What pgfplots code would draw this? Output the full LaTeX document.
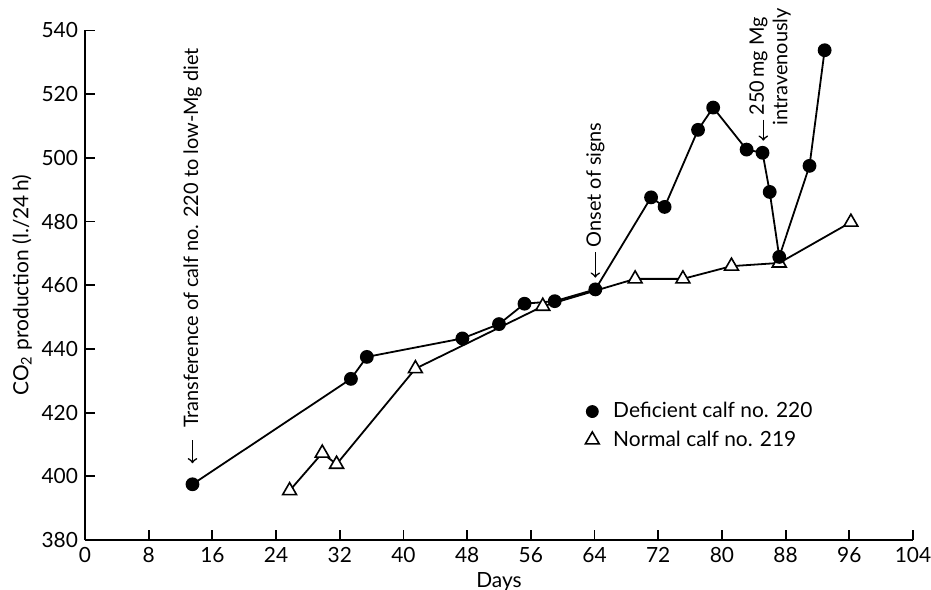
\documentclass[border=0pt]{standalone}
\usepackage{fontspec}
\setmainfont{Lato}
\usepackage{pgfplots}
\pgfplotsset{compat=1.18}
\begin{document}
\fontsize{10}{12}\selectfont
\begin{tikzpicture}
\useasboundingbox (0,0) rectangle (465.5bp,295bp);
\begin{axis}[
  at={(42.5bp,25bp)}, anchor=south west,
  scale only axis, width=414bp, height=254.75bp,
  xmin=0, xmax=104, ymin=380, ymax=540,
  axis lines=left, axis line style={line width=1.1pt, -},
  xtick={0,8,...,104}, ytick={380,400,...,540},
  tick align=inside, major tick length=5bp,
  tick style={line width=0.9pt, black},
  /pgf/number format/assume math mode=true,
  /pgf/number format/1000 sep={},
  tick label style={font=\fontsize{10.5}{12}\selectfont},
  xlabel={Days}, ylabel={CO\textsubscript{2} production (l./24\,h)},
  xlabel style={at={(axis description cs:0.5,-0.082)}, anchor=center, font=\fontsize{10.5}{12}\selectfont},
  ylabel style={at={(axis description cs:-0.0761,0.5)}, anchor=center, font=\fontsize{10.5}{12}\selectfont},
  clip=false,
  legend style={draw=none, fill=none, at={(axis cs:62.8,424.6)}, anchor=north west,
    font=\fontsize{10.5}{12}\selectfont, row sep=1bp, column sep=5bp, inner sep=0pt},
  legend cell align=left,
]
\addplot[black, line width=0.9bp, mark=triangle*, mark size=4bp, mark options={fill=white, line width=0.8bp}, forget plot] coordinates {
 (25.7,395.5) (29.8,407.3) (31.6,403.8) (41.5,433.8) (57.5,453.4)
 (69.1,462.0) (75.1,462.0) (81.2,466.0) (87.2,467.0) (96.2,479.8)
};
\addplot[black, line width=0.9bp, mark=*, mark size=3bp, mark options={fill=black}, forget plot] coordinates {
 (13.5,397.5) (33.4,430.6) (35.4,437.5) (47.4,443.3) (52.0,447.8) (55.2,454.2)
 (59.0,455.0) (64.1,458.7) (71.1,487.6) (72.8,484.6) (77.0,508.8) (78.9,515.8)
 (83.1,502.6) (85.1,501.6) (86.0,489.3) (87.2,468.9) (91.0,497.5) (92.9,533.8)
};
\addlegendimage{only marks, mark=*, mark size=3bp, black, mark options={fill=black}}
\addlegendentry{Deficient calf no. 220}
\addlegendimage{only marks, mark=triangle*, mark size=4bp, black, mark options={fill=white, line width=0.8bp}}
\addlegendentry{Normal calf no. 219}
% annotations
\draw[->, line width=0.8bp] (axis cs:13.5,411.3) -- (axis cs:13.5,404.1);
\node[rotate=90, anchor=west, inner sep=0pt] at (axis cs:13.5,415.1) {Transference of calf no. 220 to low-Mg diet};
\draw[->, line width=0.8bp] (axis cs:64.1,470.3) -- (axis cs:64.1,462.4);
\node[rotate=90, anchor=west, inner sep=0pt] at (axis cs:64.1,471.8) {Onset of signs};
\draw[->, line width=0.8bp] (axis cs:85.2,512) -- (axis cs:85.2,505.4);
\node[rotate=90, anchor=west, inner sep=0pt] at (axis cs:84.6,513.2) {250\,mg Mg};
\node[rotate=90, anchor=west, inner sep=0pt] at (axis cs:87.5,510) {intravenously};
\end{axis}
\end{tikzpicture}
\end{document}
